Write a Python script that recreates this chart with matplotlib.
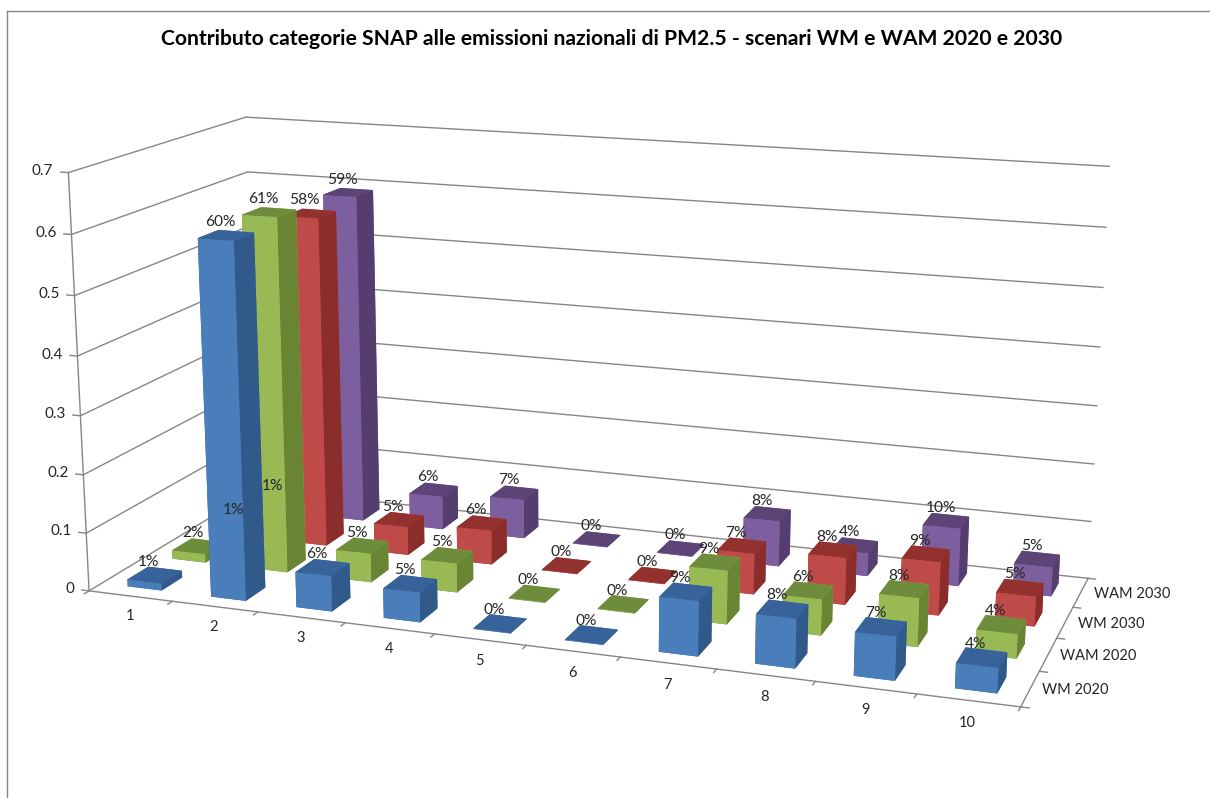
import matplotlib
matplotlib.use('Agg')
import matplotlib.pyplot as plt
from mpl_toolkits.mplot3d import proj3d

plt.rcParams['font.family'] = ['Lato', 'DejaVu Sans']

categories = ['1', '2', '3', '4', '5', '6', '7', '8', '9', '10']
series_names = ['WM 2020', 'WAM 2020', 'WM 2030', 'WAM 2030']
wm_2020 = [0.012, 0.60, 0.06, 0.05, 0.001, 0.001, 0.09, 0.08, 0.07, 0.04]
wam_2020 = [0.015, 0.61, 0.05, 0.05, 0.001, 0.001, 0.09, 0.06, 0.08, 0.04]
wm_2030 = [0.012, 0.58, 0.05, 0.06, 0.001, 0.001, 0.07, 0.08, 0.09, 0.05]
wam_2030 = [0.012, 0.59, 0.06, 0.07, 0.001, 0.001, 0.08, 0.04, 0.10, 0.05]
z_ticks = [0, 0.1, 0.2, 0.3, 0.4, 0.5, 0.6, 0.7]
title = 'Contributo categorie SNAP alle emissioni nazionali di PM2.5 - scenari WM e WAM 2020 e 2030'

series = [wm_2020, wam_2020, wm_2030, wam_2030]
# colori: frontale, sopra, lato
face_cols = [('#4A7EBB', '#37629A', '#315A8B'),
             ('#98B954', '#6E8D3C', '#698533'),
             ('#BE4B48', '#93312F', '#8A2D2B'),
             ('#7D5FA0', '#5C4476', '#553E6F')]
grid_col = '#868686'
text_col = '#262626'

W, H = 1210, 798
fig = plt.figure(figsize=(W / 100, H / 100), dpi=100, facecolor='white')

# angoli del riquadro stimati sul grafico di riferimento
s, cx, cy = 1074.27, 578.26, 395.74
ax = fig.add_axes([(cx - s / 2) / W, (H - cy - s / 2) / H, s / W, s / H], projection='3d')
ax.view_init(elev=14.41, azim=-70.59, roll=-0.07)
ax.set_proj_type('persp', focal_length=0.4494)
ax.set_box_aspect((1, 0.4008, 0.4524))
ax.computed_zorder = False
ax.set_axis_off()

nx, ny = len(categories), len(series)
zmax = z_ticks[-1]
ax.set_xlim(0, nx)
ax.set_ylim(0, ny)
ax.set_zlim(0, zmax)
proj_m = ax.get_proj()


def put_text(x, y, z, txt, size, dx=0, dy=0, **kw):
    # testo 2D nel punto proiettato, cosi' resta testo normale
    px, py, _ = proj3d.proj_transform(x, y, z, proj_m)
    ax.annotate(txt, xy=(px, py), xytext=(dx, dy), textcoords='offset pixels',
                fontsize=size, color=text_col, zorder=100, **kw)


# griglia sulle pareti
for z in z_ticks:
    ax.plot([0, 0], [0, ny], [z, z], color=grid_col, lw=1, zorder=1)
    ax.plot([0, nx], [ny, ny], [z, z], color=grid_col, lw=1, zorder=1)
    ax.plot([0, -0.09], [0, 0], [z, z], color=grid_col, lw=1, zorder=1)
    put_text(-0.2, 0, z, '%g' % z, 11, dx=2, ha='right', va='center')
ax.plot([0, 0], [0, 0], [0, zmax], color=grid_col, lw=1, zorder=1)
ax.plot([0, nx], [0, 0], [0, 0], color=grid_col, lw=1, zorder=1)
ax.plot([nx, nx], [0, ny], [0, 0], color=grid_col, lw=1, zorder=1)

for i in range(nx + 1):
    ax.plot([i, i], [0, -0.1], [0, 0], color=grid_col, lw=1, zorder=1)
for j in range(ny + 1):
    ax.plot([nx, nx + 0.08], [j, j], [0, 0], color=grid_col, lw=1, zorder=1)

for i, name in enumerate(categories):
    put_text(i * 0.973 + 0.87, -0.7, 0, name, 10.5, dx=1, dy=5, ha='center', va='center')
for j, name in enumerate(series_names):
    put_text(nx + 0.1, j + 0.5, 0, name, 10.5, dx=1 + j, ha='left', va='center')

# barre, da dietro verso davanti e da sinistra verso destra
bw, bd = 0.41, 0.46
order = 10
for j in range(ny - 1, -1, -1):
    front, top, side = face_cols[j]
    for i in range(nx):
        v = series[j][i]
        x0 = i + 0.02 + (1 - bw) / 2
        y0 = j + (1 - bd) / 2
        # ordine facce bar3d: -z, +z, -y, +y, -x, +x
        ax.bar3d(x0, y0, 0, bw, bd, v, color=[top, top, front, front, side, side],
                 shade=False, linewidth=0, zorder=order)
        order += 1
        put_text(i + 0.5, j + 0.5, v + 0.012, '%.0f%%' % (v * 100), 11.2, dx=-4, dy=-1,
                 ha='center', va='bottom')

ax.set_xlim(0, nx)
ax.set_ylim(0, ny)
ax.set_zlim(0, zmax)

# cornice del grafico
fig.add_artist(plt.Line2D([7 / W, 7 / W], [0, 1 - 11 / H], color=grid_col, lw=1))
fig.add_artist(plt.Line2D([7 / W, 1], [1 - 11 / H, 1 - 11 / H], color=grid_col, lw=1))

fig.text(612 / W, 1 - 39 / H, title, ha='center', va='center', fontsize=15.2, fontweight='bold', color='black')

fig.savefig('out.png', dpi=100)
